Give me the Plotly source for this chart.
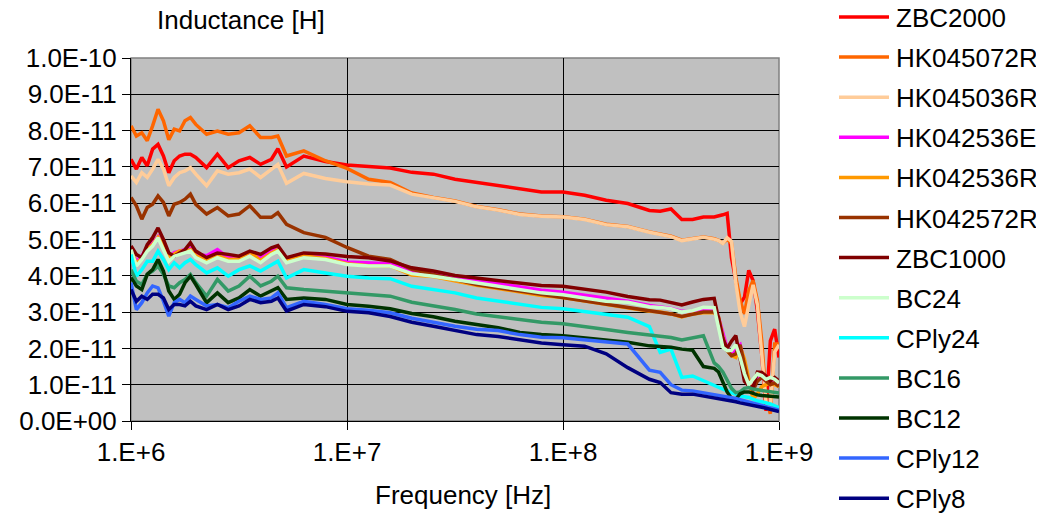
import plotly.graph_objects as go

# Frequency grid [Hz]
FREQ = [1.000e6, 1.059e6, 1.122e6, 1.189e6, 1.259e6, 1.334e6, 1.413e6, 1.496e6, 1.585e6, 1.679e6,
        1.778e6, 1.884e6, 1.995e6, 2.239e6, 2.512e6, 2.818e6, 3.162e6, 3.548e6, 3.981e6, 4.467e6,
        4.786e6, 5.248e6, 6.310e6, 7.943e6, 1.000e7, 1.259e7, 1.585e7, 1.995e7, 2.512e7, 3.162e7,
        3.981e7, 5.012e7, 6.310e7, 7.943e7, 1.000e8, 1.259e8, 1.585e8, 1.995e8, 2.512e8, 2.818e8,
        3.162e8, 3.548e8, 3.981e8, 4.467e8, 5.012e8, 5.248e8, 5.495e8, 5.754e8, 6.026e8, 6.310e8,
        6.607e8, 6.918e8, 7.244e8, 7.586e8, 7.943e8, 8.318e8, 8.710e8, 9.120e8, 9.550e8, 1.000e9]

UNIT = 1e-11  # values below are in units of 1e-11 H

ZBC2000 = [7.21, 6.94, 7.26, 7.03, 7.49, 7.62, 7.30, 6.84, 7.17, 7.30, 7.35, 7.35, 7.26, 6.98, 7.35, 6.98, 7.17, 7.26, 7.07, 7.21, 7.50, 7.00,
           7.30, 7.15, 7.05,
           7.00, 6.97, 6.85, 6.80, 6.66, 6.57, 6.48, 6.39, 6.31, 6.31, 6.22, 6.08,
           5.99, 5.80, 5.78, 5.84, 5.55, 5.55, 5.62, 5.62, 5.64, 5.68, 5.72, 4.50, 3.87, 3.23, 3.41, 4.15, 3.87, 3.04, 1.84, 0.28, 2.21, 2.53, 1.75]
HK045072R = [8.13, 7.85, 7.94, 7.72, 8.13, 8.59, 8.27, 7.75, 8.04, 7.99, 8.27, 8.36, 8.17, 7.90, 7.99, 7.90, 7.94, 8.13, 7.81, 7.81, 7.85, 7.30,
             7.44, 7.17, 6.96,
             6.66, 6.57, 6.28, 6.16, 6.06, 5.91, 5.82, 5.70, 5.65, 5.63, 5.56, 5.42,
             5.36, 5.21, 5.16, 5.09, 4.98, 5.02, 5.07, 5.02, 4.98, 4.90, 5.00, 4.90, 3.96, 3.32, 2.95, 3.59, 3.87, 3.32, 2.21, 0.60, 0.20, 2.12, 2.12]
HK045036R = [6.75, 6.57, 6.84, 6.71, 6.94, 7.21, 6.94, 6.48, 6.71, 6.84, 6.89, 6.98, 6.80, 6.48, 6.89, 6.80, 6.84, 6.94, 6.71, 6.94, 7.07, 6.55,
             6.82, 6.68, 6.59,
             6.53, 6.50, 6.25, 6.14, 6.05, 5.90, 5.81, 5.69, 5.64, 5.62, 5.55, 5.41,
             5.35, 5.20, 5.15, 5.08, 4.97, 5.01, 5.06, 5.01, 4.97, 4.89, 5.05, 4.95, 3.80, 3.00, 2.60, 3.20, 3.75, 3.20, 1.90, 0.50, 0.40, 1.90, 2.10]
HK042536E = [4.80, 4.38, 4.55, 4.78, 4.90, 5.08, 4.82, 4.50, 4.64, 4.68, 4.72, 4.76, 4.60, 4.55, 4.72, 4.50, 4.50, 4.64, 4.48, 4.72, 4.78, 4.44,
             4.58, 4.52, 4.38,
             4.36, 4.33, 4.13, 4.06, 3.97, 3.88, 3.78, 3.69, 3.60, 3.55, 3.46, 3.37,
             3.30, 3.18, 3.15, 3.10, 3.02, 3.00, 3.05, 3.05, 2.85, 2.40, 2.00, 1.85, 2.00, 2.10, 1.60, 1.05, 0.90, 1.15, 1.20, 1.10, 1.05, 1.05, 1.00]
HK042536R = [4.76, 4.32, 4.50, 4.73, 4.86, 5.06, 4.84, 4.48, 4.60, 4.68, 4.68, 4.72, 4.56, 4.41, 4.55, 4.45, 4.46, 4.66, 4.42, 4.63, 4.72, 4.41,
             4.55, 4.48, 4.33,
             4.28, 4.27, 4.02, 3.98, 3.86, 3.74, 3.65, 3.56, 3.46, 3.40, 3.30, 3.21,
             3.12, 3.02, 3.00, 2.95, 2.87, 2.95, 2.98, 2.98, 2.86, 2.30, 1.94, 1.80, 1.75, 2.05, 1.70, 1.10, 0.60, 0.75, 0.95, 1.00, 1.05, 1.00, 0.95]
HK042572R = [6.16, 5.93, 5.56, 5.88, 5.97, 6.20, 6.02, 5.65, 5.97, 6.02, 6.11, 6.25, 5.97, 5.70, 5.88, 5.65, 5.70, 5.93, 5.61, 5.61, 5.74, 5.42,
             5.19, 5.06, 4.78,
             4.54, 4.45, 4.18, 4.04, 3.90, 3.76, 3.67, 3.58, 3.48, 3.41, 3.30, 3.21,
             3.13, 3.04, 3.00, 2.95, 2.88, 2.95, 3.00, 3.00, 2.86, 2.30, 1.94, 1.80, 1.85, 2.10, 1.60, 1.00, 0.85, 1.10, 1.20, 1.10, 1.00, 1.05, 0.95]
ZBC1000 = [4.82, 4.59, 4.50, 4.86, 5.05, 5.32, 5.00, 4.63, 4.54, 4.63, 4.72, 4.91, 4.68, 4.50, 4.63, 4.59, 4.54, 4.68, 4.59, 4.77, 4.83, 4.50,
           4.63, 4.60, 4.53,
           4.50, 4.41, 4.22, 4.13, 4.01, 3.94, 3.85, 3.79, 3.73, 3.71, 3.62, 3.55,
           3.43, 3.34, 3.33, 3.27, 3.20, 3.28, 3.35, 3.38, 2.76, 2.25, 2.00, 2.20, 2.35, 1.75, 1.10, 0.97, 0.92, 1.35, 1.34, 1.24, 1.10, 1.20, 1.10]
BC24 = [4.72, 4.27, 4.45, 4.68, 4.82, 5.05, 4.72, 4.40, 4.54, 4.59, 4.63, 4.68, 4.50, 4.36, 4.50, 4.40, 4.40, 4.54, 4.36, 4.59, 4.68, 4.36,
        4.50, 4.45, 4.31,
        4.27, 4.27, 4.06, 3.99, 3.90, 3.81, 3.71, 3.62, 3.53, 3.48, 3.39, 3.30,
        3.27, 3.15, 3.13, 3.09, 3.00, 3.04, 3.13, 3.12, 2.58, 2.03, 1.94, 1.95, 2.10, 1.75, 1.30, 1.00, 1.15, 1.30, 1.25, 1.15, 1.20, 1.15, 1.05]
CPly24 = [4.59, 3.99, 4.17, 4.40, 4.40, 4.68, 4.45, 4.17, 4.36, 4.22, 4.36, 4.45, 4.31, 4.08, 4.22, 3.99, 4.17, 4.27, 4.13, 4.31, 4.40, 3.94,
          4.17, 4.08, 3.99,
          3.94, 3.92, 3.71, 3.62, 3.53, 3.39, 3.30, 3.21, 3.13, 3.09, 3.02, 2.93,
          2.86, 2.60, 1.89, 1.98, 1.20, 1.24, 1.10, 0.97, 0.93, 0.88, 0.83, 0.78, 0.74, 0.69, 0.67, 0.65, 0.60, 0.55, 0.53, 0.51, 0.47, 0.42, 0.37]
BC16 = [4.17, 3.85, 3.76, 4.04, 4.13, 4.27, 4.04, 3.72, 3.67, 3.81, 3.90, 4.04, 3.81, 3.44, 3.90, 3.58, 3.72, 3.99, 3.72, 3.85, 3.99, 3.67,
        3.62, 3.58, 3.53,
        3.48, 3.44, 3.27, 3.18, 3.07, 2.95, 2.88, 2.81, 2.72, 2.68, 2.61, 2.52,
        2.44, 2.38, 2.35, 2.30, 2.23, 2.30, 2.35, 1.60, 1.50, 1.35, 1.10, 0.90, 0.78, 0.80, 0.90, 0.92, 0.88, 0.86, 0.84, 0.82, 0.80, 0.79, 0.77]
BC12 = [3.95, 3.72, 3.62, 4.04, 4.17, 4.45, 4.13, 3.58, 3.35, 3.49, 3.81, 3.99, 3.76, 3.26, 3.53, 3.26, 3.39, 3.62, 3.44, 3.58, 3.67, 3.35,
        3.39, 3.35, 3.21,
        3.16, 3.09, 2.96, 2.87, 2.75, 2.66, 2.57, 2.44, 2.38, 2.35, 2.29, 2.21,
        2.17, 2.07, 2.05, 2.03, 1.98, 1.95, 1.50, 1.45, 1.35, 1.10, 0.80, 0.62, 0.60, 0.75, 0.80, 0.80, 0.75, 0.72, 0.70, 0.69, 0.68, 0.67, 0.66]
CPly12 = [3.81, 3.07, 3.26, 3.53, 3.72, 3.67, 3.30, 2.89, 3.26, 3.35, 3.26, 3.44, 3.35, 3.17, 3.21, 3.12, 3.30, 3.44, 3.35, 3.39, 3.53, 3.12,
          3.30, 3.21, 3.09,
          3.05, 2.98, 2.83, 2.72, 2.61, 2.53, 2.49, 2.38, 2.31, 2.29, 2.24, 2.17,
          2.12, 1.40, 1.34, 1.00, 0.85, 0.83, 0.78, 0.74, 0.72, 0.70, 0.67, 0.65, 0.62, 0.59, 0.56, 0.53, 0.50, 0.47, 0.44, 0.41, 0.37, 0.33, 0.30]
CPly8 = [3.62, 3.30, 3.44, 3.35, 3.49, 3.49, 3.39, 3.07, 3.21, 3.21, 3.17, 3.30, 3.17, 3.07, 3.21, 3.07, 3.17, 3.35, 3.26, 3.30, 3.39, 3.03,
         3.21, 3.15, 3.02,
         2.98, 2.88, 2.72, 2.61, 2.50, 2.38, 2.33, 2.24, 2.15, 2.10, 2.06, 1.85,
         1.47, 1.15, 1.06, 0.78, 0.74, 0.74, 0.69, 0.65, 0.63, 0.61, 0.58, 0.55, 0.53, 0.50, 0.48, 0.46, 0.44, 0.41, 0.38, 0.35, 0.32, 0.29, 0.26]

SERIES_NAMES = ["ZBC2000", "HK045072R", "HK045036R", "HK042536E", "HK042536R", "HK042572R", "ZBC1000",
                "BC24", "CPly24", "BC16", "BC12", "CPly12", "CPly8"]
SERIES_VALUES = [ZBC2000, HK045072R, HK045036R, HK042536E, HK042536R, HK042572R, ZBC1000,
                 BC24, CPly24, BC16, BC12, CPly12, CPly8]
SERIES_COLORS = ["#FF0000", "#FF6600", "#FFCC99", "#FF00FF", "#FF9900", "#993300", "#800000",
                 "#CCFFCC", "#00FFFF", "#339966", "#003300", "#3366FF", "#000080"]

X_TICK_VALUES = [1e6, 1e7, 1e8, 1e9]
X_TICK_LABELS = ["1.E+6", "1.E+7", "1.E+8", "1.E+9"]
Y_TICK_VALUES = [i * 1e-11 for i in range(11)]
Y_TICK_LABELS = ["0.0E+00", "1.0E-11", "2.0E-11", "3.0E-11", "4.0E-11", "5.0E-11",
                 "6.0E-11", "7.0E-11", "8.0E-11", "9.0E-11", "1.0E-10"]

FONT = "Liberation Sans, Arial, sans-serif"
FS = 26

# The page body has an 8px default margin; shrink the figure and shift all pixel
# positions so that the result lines up with the 1044x516 window.
OFF = 8
W, H = 1044 - OFF, 516 - OFF
L, R, T, B = 131 - OFF, 779 - OFF, 58 - OFF, 421 - OFF
PW, PH = R - L, B - T


def px_x(px):
    return (px - OFF - L) / PW


def px_y(py):
    return (B - (py - OFF)) / PH


fig = go.Figure()
for name, vals, col in zip(SERIES_NAMES, SERIES_VALUES, SERIES_COLORS):
    fig.add_trace(go.Scatter(
        x=FREQ, y=[v * UNIT for v in vals], mode="lines", name=name,
        line=dict(color=col, width=3.5), showlegend=False,
    ))

shapes = [dict(type="rect", xref="paper", yref="paper", x0=0, x1=1, y0=0, y1=1,
               line=dict(color="#808080", width=1.5), layer="below")]
annotations = [
    dict(text="Inductance [H]", xref="paper", yref="paper", x=px_x(155), y=px_y(20),
         xanchor="left", yanchor="middle", showarrow=False, font=dict(family=FONT, size=FS)),
    dict(text="Frequency [Hz]", xref="paper", yref="paper", x=px_x(463), y=px_y(495),
         xanchor="center", yanchor="middle", showarrow=False, font=dict(family=FONT, size=FS)),
]

# legend (drawn as line samples + text on the right)
for i, (name, col) in enumerate(zip(SERIES_NAMES, SERIES_COLORS)):
    yc = 17 + 40.1 * i
    shapes.append(dict(type="line", xref="paper", yref="paper",
                       x0=px_x(839), x1=px_x(889), y0=px_y(yc), y1=px_y(yc),
                       line=dict(color=col, width=3.5)))
    annotations.append(dict(text=name, xref="paper", yref="paper", x=px_x(894), y=px_y(yc + 1),
                            xanchor="left", yanchor="middle", showarrow=False,
                            font=dict(family=FONT, size=FS, color="black")))

fig.update_layout(
    width=W, height=H,
    margin=dict(l=L, r=W - R, t=T, b=H - B, autoexpand=False),
    paper_bgcolor="white", plot_bgcolor="#C0C0C0",
    font=dict(family=FONT, size=FS, color="black"),
    showlegend=False,
    xaxis=dict(type="log", range=[6, 9], tickvals=X_TICK_VALUES, ticktext=X_TICK_LABELS,
               showgrid=True, gridcolor="black", gridwidth=1,
               showline=True, linecolor="black", linewidth=1,
               ticks="outside", ticklen=8, tickcolor="black",
               tickfont=dict(family=FONT, size=FS), zeroline=False),
    yaxis=dict(range=[0, 1e-10], tickvals=Y_TICK_VALUES, ticktext=Y_TICK_LABELS,
               showgrid=True, gridcolor="black", gridwidth=1,
               showline=True, linecolor="black", linewidth=1,
               ticks="outside", ticklen=8, tickcolor="black",
               tickfont=dict(family=FONT, size=FS), zeroline=False),
    shapes=shapes,
    annotations=annotations,
)

fig.write_html("out.html")
